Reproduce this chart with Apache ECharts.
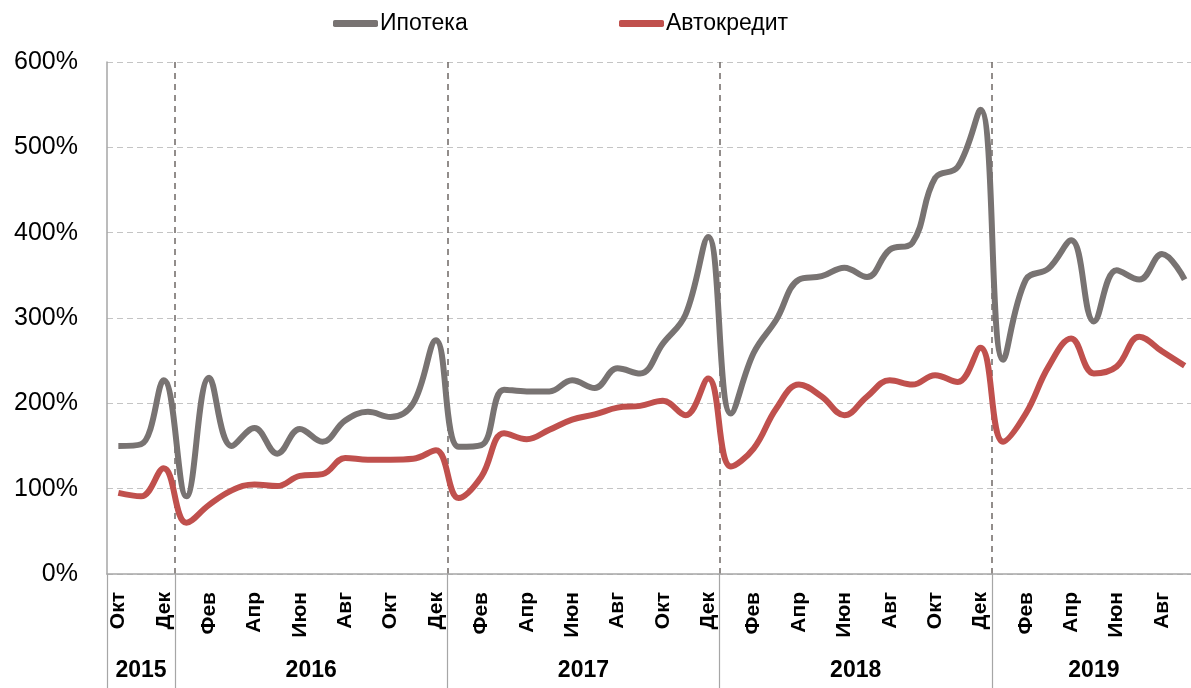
<!DOCTYPE html>
<html lang="ru">

<head>
    <meta charset="UTF-8">
    <title>Ипотека и автокредит</title>
    <script src="https://cdn.jsdelivr.net/npm/echarts@6.0.0/dist/echarts.min.js"></script>
    <style>
        html, body { margin: 0; padding: 0; background: #fff; overflow: hidden; }
    </style>
</head>

<body>
    <!-- последний месяц в оригинале чуть обрезан правым краем, поэтому холст шире окна -->
    <div id="container" style="width: 1196px; height: 688px"></div>
    <script>
        // месяцы с окт 2015 по сен 2019
        var months = [
            'Окт', 'Ноя', 'Дек',
            'Янв', 'Фев', 'Мар', 'Апр', 'Май', 'Июн', 'Июл', 'Авг', 'Сен', 'Окт', 'Ноя', 'Дек',
            'Янв', 'Фев', 'Мар', 'Апр', 'Май', 'Июн', 'Июл', 'Авг', 'Сен', 'Окт', 'Ноя', 'Дек',
            'Янв', 'Фев', 'Мар', 'Апр', 'Май', 'Июн', 'Июл', 'Авг', 'Сен', 'Окт', 'Ноя', 'Дек',
            'Янв', 'Фев', 'Мар', 'Апр', 'Май', 'Июн', 'Июл', 'Авг', 'Сен'
        ];
        var years = ['2015', '2016', '2017', '2018', '2019'];
        var monthsPerYear = [3, 12, 12, 12, 9];

        // значения, %
        var mortgage = [
            150, 152, 227,
            91, 230, 150, 171, 141, 170, 155, 180, 190, 184, 200, 274,
            149, 151, 216, 214, 214, 227, 218, 241, 235, 270, 304, 395,
            188, 259, 298, 345, 349, 359, 348, 380, 388, 464, 477, 544,
            251, 345, 358, 391, 296, 356, 345, 375, 345
        ];
        var carLoans = [
            95, 91, 124,
            60, 81, 98, 105, 103, 115, 117, 136, 134, 134, 135, 145,
            89, 114, 165, 158, 169, 181, 187, 195, 197, 203, 186, 229,
            126, 147, 194, 222, 208, 186, 208, 227, 222, 233, 225, 265,
            155, 188, 243, 276, 235, 243, 278, 261, 244
        ];

        var yTicks = [0, 100, 200, 300, 400, 500, 600];

        // центры подписей годов и индексы первого месяца года
        var yearCenters = [];
        var yearStarts = [];
        var acc = 0;
        for (var i = 0; i < monthsPerYear.length; i++) {
            yearStarts.push(acc);
            yearCenters.push(acc + monthsPerYear[i] / 2);
            acc += monthsPerYear[i];
        }

        var sans = '"Liberation Sans", Arial, sans-serif';

        var chartDom = document.getElementById('container');
        var myChart = echarts.init(chartDom);

        myChart.setOption({
            animation: false,
            legend: [
                {
                    data: ['Ипотека'],
                    left: 333, top: 12, padding: 0,
                    icon: 'roundRect',
                    itemWidth: 45, itemHeight: 7,
                    textStyle: { fontSize: 23, fontFamily: sans, color: '#000', padding: [0, 0, 0, -3] }
                },
                {
                    data: ['Автокредит'],
                    left: 619, top: 12, padding: 0,
                    icon: 'roundRect',
                    itemWidth: 45, itemHeight: 7,
                    textStyle: { fontSize: 23, fontFamily: sans, color: '#000', padding: [0, 0, 0, -3] }
                }
            ],
            grid: { left: 107, top: 62, right: 0, bottom: 114 },
            xAxis: [
                {
                    type: 'category',
                    data: months,
                    boundaryGap: true,
                    axisLine: { lineStyle: { color: '#a6a6a6', width: 1.5 } },
                    axisTick: {
                        show: true,
                        interval: function (index) { return yearStarts.indexOf(index) >= 0; },
                        length: 114,
                        lineStyle: { color: '#a6a6a6', width: 1.2 }
                    },
                    axisLabel: {
                        interval: 1,
                        rotate: 90,
                        margin: 18,
                        fontSize: 21,
                        fontWeight: 'bold',
                        fontFamily: sans,
                        color: '#000'
                    },
                    splitLine: {
                        show: true,
                        interval: function (index) { return index > 0 && yearStarts.indexOf(index) >= 0; },
                        lineStyle: { color: '#6f6865', type: [6, 5], width: 1.5 }
                    }
                },
                {
                    type: 'value',
                    min: 0,
                    max: months.length,
                    position: 'bottom',
                    axisLine: { show: false },
                    axisTick: { show: false },
                    splitLine: { show: false },
                    axisLabel: {
                        customValues: yearCenters,
                        margin: 85,
                        fontSize: 23,
                        fontWeight: 'bold',
                        fontFamily: sans,
                        color: '#000',
                        formatter: function (v) {
                            var k = yearCenters.indexOf(v);
                            return k >= 0 ? years[k] : '';
                        }
                    }
                }
            ],
            yAxis: {
                type: 'value',
                min: yTicks[0],
                max: yTicks[yTicks.length - 1],
                interval: 100,
                axisLine: { show: true, lineStyle: { color: '#a6a6a6', width: 1.5 } },
                axisTick: { show: false },
                axisLabel: {
                    formatter: '{value}%',
                    margin: 29,
                    fontSize: 25,
                    fontFamily: sans,
                    color: '#000'
                },
                splitLine: { lineStyle: { color: '#c4c4c4', type: [6, 4], width: 1.2 } }
            },
            series: [
                {
                    name: 'Ипотека',
                    type: 'line',
                    data: mortgage,
                    smooth: 0.4,
                    showSymbol: false,
                    color: '#787372',
                    lineStyle: { width: 6, color: '#787372' }
                },
                {
                    name: 'Автокредит',
                    type: 'line',
                    data: carLoans,
                    smooth: 0.4,
                    showSymbol: false,
                    color: '#c0504d',
                    lineStyle: { width: 6, color: '#c0504d' }
                }
            ]
        });
    </script>
</body>

</html>
